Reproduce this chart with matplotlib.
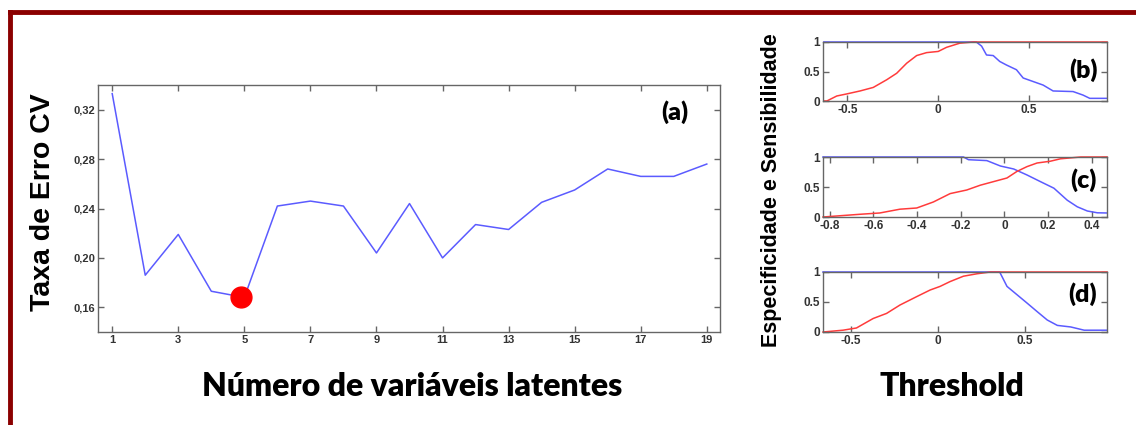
import matplotlib
matplotlib.use("Agg")
import matplotlib.pyplot as plt
from matplotlib.lines import Line2D
from matplotlib.ticker import FixedLocator, FuncFormatter

# ---------------- data ----------------
n_latent = list(range(1, 20))
cv_error = [0.333, 0.186, 0.219, 0.173, 0.168, 0.242, 0.246, 0.242, 0.204, 0.244,
            0.200, 0.227, 0.223, 0.245, 0.255, 0.272, 0.266, 0.266, 0.276]
best_n = 4.9
best_err = 0.168

# (b)
b_sens_x = [-0.63, -0.614, -0.559, -0.504, -0.431, -0.358, -0.284, -0.229, -0.174, -0.119,
            -0.064, 0.0, 0.046, 0.119, 0.193, 0.93]
b_sens_y = [0.0, 0.0, 0.085, 0.12, 0.17, 0.23, 0.36, 0.47, 0.64, 0.77,
            0.82, 0.84, 0.91, 0.98, 1.0, 1.0]
b_spec_x = [-0.63, 0.21, 0.239, 0.266, 0.303, 0.339, 0.376, 0.431, 0.468, 0.523,
            0.578, 0.633, 0.743, 0.798, 0.835, 0.93]
b_spec_y = [1.0, 1.0, 0.93, 0.78, 0.77, 0.67, 0.61, 0.53, 0.39, 0.33,
            0.27, 0.17, 0.16, 0.10, 0.045, 0.045]

# (c)
c_sens_x = [-0.83, -0.662, -0.570, -0.478, -0.401, -0.325, -0.248, -0.172, -0.110, -0.049,
            0.012, 0.058, 0.104, 0.150, 0.211, 0.257, 0.349, 0.47]
c_sens_y = [0.0, 0.045, 0.067, 0.13, 0.15, 0.25, 0.39, 0.45, 0.53, 0.59,
            0.65, 0.76, 0.84, 0.90, 0.93, 0.97, 1.0, 1.0]
c_spec_x = [-0.83, -0.187, -0.164, -0.080, -0.018, 0.043, 0.104, 0.165, 0.227, 0.288,
            0.334, 0.380, 0.426, 0.47]
c_spec_y = [1.0, 1.0, 0.955, 0.94, 0.85, 0.80, 0.70, 0.59, 0.48, 0.28,
            0.17, 0.10, 0.07, 0.067]

# (d)
d_sens_x = [-0.66, -0.545, -0.468, -0.372, -0.295, -0.218, -0.122, -0.045, 0.012, 0.069,
            0.146, 0.223, 0.300, 0.97]
d_sens_y = [0.0, 0.03, 0.067, 0.225, 0.31, 0.45, 0.59, 0.70, 0.76, 0.84,
            0.93, 0.97, 1.0, 1.0]
d_spec_x = [-0.66, 0.354, 0.396, 0.454, 0.512, 0.569, 0.627, 0.685, 0.762, 0.839, 0.97]
d_spec_y = [1.0, 1.0, 0.76, 0.62, 0.48, 0.34, 0.20, 0.11, 0.084, 0.03, 0.03]

main_xticks = [1, 3, 5, 7, 9, 11, 13, 15, 17, 19]
main_yticks = [0.16, 0.20, 0.24, 0.28, 0.32]

# ---------------- style ----------------
W, H = 1136, 425
fig = plt.figure(figsize=(W / 100, H / 100), dpi=100)
fig.patch.set_facecolor("white")

BLUE = "#5b5bff"
RED = "#ff3b3b"
AXC = "#666666"
TXT = "#333333"
LBL = ["Liberation Sans", "DejaVu Sans"]
BIG = ["Lato", "DejaVu Sans"]


def px_axes(left, top, right, bottom):
    return fig.add_axes([left / W, 1 - bottom / H, (right - left) / W, (bottom - top) / H])


def ftext(x, y, s, **kw):
    return fig.text(x / W, 1 - y / H, s, **kw)


def style(ax, fs):
    for s in ax.spines.values():
        s.set_color(AXC)
        s.set_linewidth(1.0)
    ax.tick_params(direction="in", top=True, right=True, length=4, width=1,
                   colors=AXC, labelcolor=TXT, labelsize=fs, pad=2)
    for lab in ax.get_xticklabels() + ax.get_yticklabels():
        lab.set_fontfamily(LBL)
        lab.set_fontweight("bold")


# border (top and left edges only visible)
fig.add_artist(Line2D([10 / W, 1.0], [1 - 12 / H, 1 - 12 / H], color="#8b0000", lw=3.5,
                      transform=fig.transFigure))
fig.add_artist(Line2D([10 / W, 10 / W], [1 - 12 / H, 0.0], color="#8b0000", lw=3.5,
                      transform=fig.transFigure))

# ---------------- main axes ----------------
ax = px_axes(98, 85, 720, 332)
ax.plot(n_latent, cv_error, color=BLUE, lw=1.1)
ax.plot([best_n], [best_err], "o", color="#ff0000", ms=15, zorder=5)
ax.set_xlim(0.57, 19.4)
ax.set_ylim(0.14, 0.34)
ax.xaxis.set_major_locator(FixedLocator(main_xticks))
ax.yaxis.set_major_locator(FixedLocator(main_yticks))
ax.yaxis.set_major_formatter(FuncFormatter(lambda v, p: f"{v:.2f}".replace(".", ",")))
style(ax, 8)
ftext(675, 112, "(a)", fontsize=18, fontweight="heavy", family=BIG, ha="center", va="center")

ftext(43, 202, "Taxa de Erro CV", rotation=90, fontsize=20.5,
      fontweight="bold", ha="center", va="center", family=["Liberation Sans", "DejaVu Sans"])
ftext(412, 387, "Número de variáveis latentes", fontsize=23,
      fontweight="heavy", ha="center", va="center", family=BIG)

# ---------------- right panels ----------------
panels = [
    ((823, 42, 1107, 101), (-0.635, 0.93), [-0.5, 0, 0.5], b_sens_x, b_sens_y, b_spec_x, b_spec_y, "(b)", 70),
    ((823, 157, 1107, 217), (-0.83, 0.47), [-0.8, -0.6, -0.4, -0.2, 0, 0.2, 0.4], c_sens_x, c_sens_y, c_spec_x, c_spec_y, "(c)", 180),
    ((823, 272, 1107, 332), (-0.66, 0.97), [-0.5, 0, 0.5], d_sens_x, d_sens_y, d_spec_x, d_spec_y, "(d)", 294),
]
for box, xl, xt, sx, sy, px, py, tag, ty in panels:
    a = px_axes(*box)
    a.plot(px, py, color=BLUE, lw=1.1, clip_on=False)
    a.plot(sx, sy, color=RED, lw=1.1, clip_on=False)
    a.set_xlim(*xl)
    a.set_ylim(0, 1)
    a.xaxis.set_major_locator(FixedLocator(xt))
    a.yaxis.set_major_locator(FixedLocator([0, 0.5, 1]))
    a.xaxis.set_major_formatter(FuncFormatter(lambda v, p: f"{v:g}"))
    a.yaxis.set_major_formatter(FuncFormatter(lambda v, p: f"{v:g}"))
    style(a, 8.5)
    ftext(1083, ty, tag, fontsize=18, fontweight="heavy", family=BIG, ha="center", va="center")

ftext(771, 190, "Especificidade e Sensibilidade", rotation=90, fontsize=15.5,
      fontweight="bold", ha="center", va="center", family=["Liberation Sans", "DejaVu Sans"])
ftext(952, 387, "Threshold", fontsize=23, fontweight="heavy",
      ha="center", va="center", family=BIG)

fig.savefig("out.png", dpi=100)
